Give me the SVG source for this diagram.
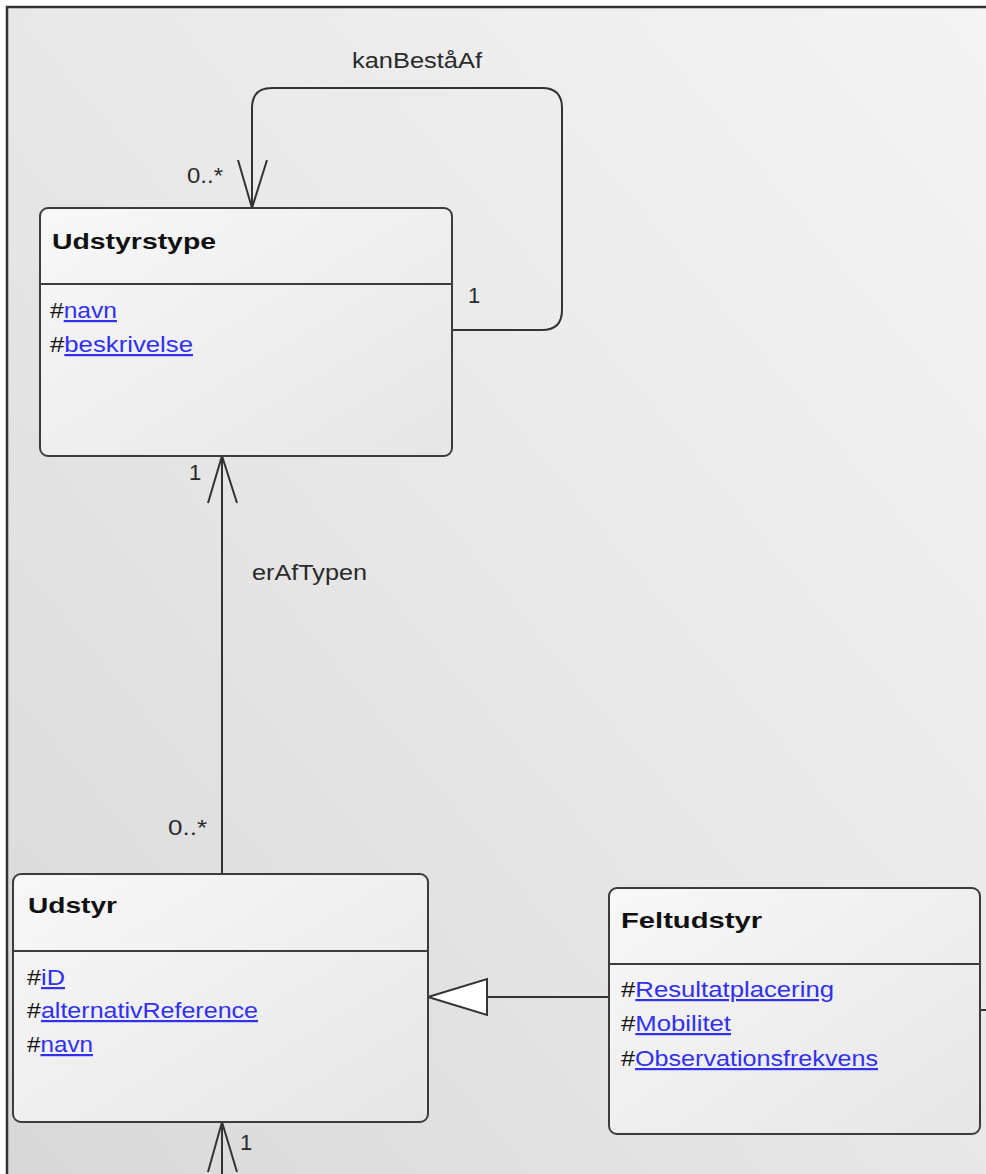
<svg xmlns="http://www.w3.org/2000/svg" width="986" height="1174" viewBox="0 0 986 1174">
<defs>
<linearGradient id="bg" x1="1" y1="0" x2="0" y2="1">
<stop offset="0" stop-color="#f4f4f4"/>
<stop offset="0.5" stop-color="#e8e8e8"/>
<stop offset="1" stop-color="#d8d8d8"/>
</linearGradient>
<linearGradient id="boxfill" x1="0" y1="0" x2="1" y2="1">
<stop offset="0" stop-color="#f8f8f8"/>
<stop offset="1" stop-color="#e6e6e6"/>
</linearGradient>
<style>
.box{fill:url(#boxfill);stroke:#3c3c3c;stroke-width:2}
.div{stroke:#3c3c3c;stroke-width:2}
.title{font-family:"Liberation Sans",Arial,sans-serif;font-weight:bold;font-size:22px;fill:#111}
.attr{font-family:"Liberation Sans",Arial,sans-serif;font-size:22px;fill:#111}
.link{fill:#3030f0;text-decoration:underline}
.lbl{font-family:"Liberation Sans",Arial,sans-serif;font-size:22px;fill:#2a2a2a}
.conn{fill:none;stroke:#333;stroke-width:2}
</style>
</defs>
<rect x="0" y="0" width="986" height="1174" fill="#ffffff"/>
<rect x="7" y="7" width="979" height="1167" fill="url(#bg)"/>
<path d="M7,1174 V7 H986" fill="none" stroke="#333" stroke-width="2.5"/>

<g id="connectors">
<path class="conn" d="M452,330 H542 Q562,330 562,310 V108 Q562,88 542,88 H272 Q252,88 252,108 V208"/>
<polyline class="conn" points="238,160 252,208 267,160"/>
<text class="lbl" x="352" y="68" textLength="130" lengthAdjust="spacingAndGlyphs">kanBeståAf</text>
<text class="lbl" x="187" y="183" textLength="36" lengthAdjust="spacingAndGlyphs">0..*</text>
<text class="lbl" x="468" y="303">1</text>

<line class="conn" x1="222" y1="456" x2="222" y2="874"/>
<polyline class="conn" points="208,503 222,456 237,503"/>
<text class="lbl" x="189" y="480">1</text>
<text class="lbl" x="252" y="580" textLength="115" lengthAdjust="spacingAndGlyphs">erAfTypen</text>
<text class="lbl" x="168" y="835" textLength="39" lengthAdjust="spacingAndGlyphs">0..*</text>

<line class="conn" x1="609" y1="997" x2="487" y2="997"/>
<polygon points="428,997 487,979 487,1015" fill="#ffffff" stroke="#333" stroke-width="2"/>

<line class="conn" x1="980" y1="1010" x2="986" y2="1010"/>

<line class="conn" x1="222" y1="1122" x2="222" y2="1174"/>
<polyline class="conn" points="208,1172 222,1122 237,1172"/>
<text class="lbl" x="240" y="1150">1</text>
</g>

<g id="Udstyrstype">
<rect class="box" x="40" y="208" width="412" height="248" rx="8"/>
<line class="div" x1="40" y1="284" x2="452" y2="284"/>
<text class="title" x="52" y="249" textLength="164" lengthAdjust="spacingAndGlyphs">Udstyrstype</text>
<text class="attr" x="50" y="318" textLength="67" lengthAdjust="spacingAndGlyphs">#<tspan class="link">navn</tspan></text>
<text class="attr" x="50" y="352" textLength="143" lengthAdjust="spacingAndGlyphs">#<tspan class="link">beskrivelse</tspan></text>
</g>

<g id="Udstyr">
<rect class="box" x="13" y="874" width="415" height="248" rx="8"/>
<line class="div" x1="13" y1="951" x2="428" y2="951"/>
<text class="title" x="28" y="913" textLength="89" lengthAdjust="spacingAndGlyphs">Udstyr</text>
<text class="attr" x="27" y="985" textLength="38" lengthAdjust="spacingAndGlyphs">#<tspan class="link">iD</tspan></text>
<text class="attr" x="27" y="1018" textLength="231" lengthAdjust="spacingAndGlyphs">#<tspan class="link">alternativReference</tspan></text>
<text class="attr" x="27" y="1052" textLength="66" lengthAdjust="spacingAndGlyphs">#<tspan class="link">navn</tspan></text>
</g>

<g id="Feltudstyr">
<rect class="box" x="609" y="888" width="371" height="246" rx="8"/>
<line class="div" x1="609" y1="964" x2="980" y2="964"/>
<text class="title" x="621" y="928" textLength="141" lengthAdjust="spacingAndGlyphs">Feltudstyr</text>
<text class="attr" x="621" y="997" textLength="213" lengthAdjust="spacingAndGlyphs">#<tspan class="link">Resultatplacering</tspan></text>
<text class="attr" x="621" y="1031" textLength="110" lengthAdjust="spacingAndGlyphs">#<tspan class="link">Mobilitet</tspan></text>
<text class="attr" x="621" y="1066" textLength="257" lengthAdjust="spacingAndGlyphs">#<tspan class="link">Observationsfrekvens</tspan></text>
</g>
</svg>
